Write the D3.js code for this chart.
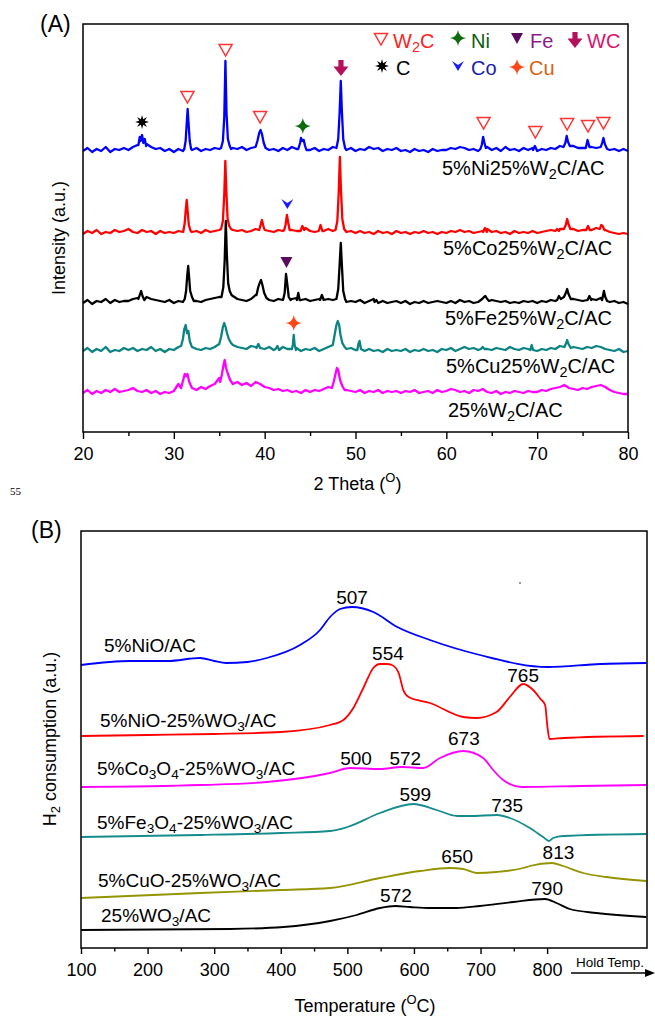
<!DOCTYPE html>
<html>
<head>
<meta charset="utf-8">
<script src="https://cdn.jsdelivr.net/npm/d3@7"></script>
<style>
  body { margin: 0; background: #fff; }
  svg { display: block; }
  text { font-family: "Liberation Sans", Arial, sans-serif; fill: #000; }
</style>
</head>
<body>
<svg id="fig" width="655" height="1019"></svg>
<script>
// ---------- data: (A) XRD patterns ----------
// background read every 0.5 deg from 20 to 80 (a.u. above each pattern's baseline)
const bgNi = [2,5,1,4,2,6,1,4,3,5, 3,6,8,10,9,6,4,5,2,4, 1,4,2,6,3,5,2,4,3,5, 4,6,8,5,4,6,3,5,7,10,
              5,3,4,2,5,3,6,4,8,6, 3,5,2,4,3,6,8,4,3,5, 2,4,3,6,4,5,2,4,3,5, 2,3,1,4,2,3,1,4,2,3,
              3,5,4,6,5,3,4,2,5,6, 3,5,2,6,3,4,2,5,3,5, 2,4,3,5,4,7,8,6,7,5, 5,7,6,5,8,6,3,4,2,4, 2];
const bgCo = [1,4,2,5,1,3,2,5,3,4, 6,3,2,5,3,4,1,4,2,3, 2,4,3,5,3,4,2,5,3,4, 5,8,8,5,4,5,3,4,6,8,
              6,4,3,5,4,6,5,4,6,7, 4,3,5,4,6,4,6,5,3,4, 2,4,2,3,1,4,2,3,1,4, 2,3,1,3,2,4,2,3,1,3,
              2,4,3,5,3,4,2,3,4,6, 3,4,2,3,1,4,2,3,2,4, 2,3,4,5,4,6,7,5,6,4, 5,6,5,7,6,5,3,2,1,2, 1];
const bgFe = [2,5,1,4,3,6,2,5,3,4, 4,6,7,9,8,6,5,4,3,5, 2,4,3,6,8,4,3,5,6,7, 8,10,12,9,6,5,4,6,10,14,
              8,5,4,6,5,8,6,7,5,6, 4,5,6,4,6,5,8,5,3,4, 3,5,2,4,6,3,4,2,3,4, 2,4,1,3,2,4,2,3,4,3,
              2,4,2,5,3,4,2,3,4,7, 5,4,3,4,2,3,2,4,3,4, 2,4,3,5,4,6,5,5,6,5, 4,5,6,5,7,5,3,4,2,3, 1];
const bgCu = [2,5,1,4,2,6,1,3,2,5, 3,5,2,4,3,6,2,4,1,4, 3,6,8,10,6,4,3,5,4,6, 10,14,12,8,6,5,4,7,6,7,
              4,6,3,5,6,4,3,5,2,4, 3,5,2,4,6,8,14,10,4,5, 3,5,2,4,2,3,1,4,2,3, 2,4,1,3,2,4,2,3,1,4,
              3,5,2,4,6,4,5,3,6,4, 3,5,4,3,6,4,3,5,4,6, 2,4,3,5,4,7,6,8,6,5, 4,6,5,7,6,4,3,2,4,1, 2];
const bgW2C = [3,6,2,5,3,6,4,7,4,5, 6,8,5,4,6,3,5,2,4,3, 5,12,16,12,8,6,9,7,10,12, 18,24,16,12,14,11,13,10,14,12,
               9,8,6,7,5,6,4,5,3,6, 4,6,5,7,9,14,18,12,6,5, 4,6,3,5,4,6,3,5,4,5, 3,5,4,6,3,4,5,3,6,4,
               5,7,6,4,5,3,6,5,7,4, 3,5,2,4,3,5,4,3,5,4, 4,6,5,7,8,9,11,8,7,6, 8,7,9,10,11,9,6,4,3,2, 2];

// diffraction peaks: [2theta, a.u. above baseline]
const pkNi = [
  [[26.1,8],[26.25,16],[26.35,12],[26.5,18],[26.65,10],[26.8,14],[26.95,7]],
  [[31.15,4],[31.3,12],[31.42,30],[31.52,44],[31.62,30],[31.75,12],[31.9,4]],
  [[35.2,5],[35.4,12],[35.55,35],[35.68,92],[35.8,40],[35.95,14],[36.15,7],[36.3,4]],
  [[39.0,6],[39.2,12],[39.4,20],[39.55,23],[39.7,19],[39.9,10],[40.1,5]],
  [[43.7,4],[43.9,10],[44.0,15],[44.15,12],[44.3,13],[44.45,7],[44.6,3]],
  [[47.9,5],[48.1,14],[48.25,40],[48.38,72],[48.5,42],[48.65,14],[48.85,5]],
  [[63.75,4],[63.9,8],[64.05,16],[64.2,10],[64.35,5]],
  [[69.55,3],[69.75,7],[69.95,3]],
  [[72.9,6],[73.1,10],[73.25,17],[73.4,11],[73.6,7]],
  [[75.35,5],[75.55,13],[75.75,6]],
  [[77.0,6],[77.15,10],[77.3,15],[77.45,9],[77.7,4]]
];
const pkCo = [
  [[31.05,4],[31.2,12],[31.32,26],[31.42,35],[31.52,24],[31.65,10],[31.85,4]],
  [[35.2,6],[35.4,14],[35.55,40],[35.67,74],[35.78,44],[35.92,16],[36.1,9],[36.3,6]],
  [[39.4,5],[39.55,10],[39.7,15],[39.85,9],[40.0,5]],
  [[42.15,5],[42.3,10],[42.45,20],[42.6,12],[42.75,5]],
  [[43.95,4],[44.15,9],[44.35,5]],
  [[45.95,4],[46.15,10],[46.35,4]],
  [[47.8,5],[48.0,14],[48.15,42],[48.28,78],[48.4,45],[48.55,16],[48.75,6]],
  [[64.05,3],[64.25,7],[64.45,3]],
  [[72.0,4],[72.2,6],[72.4,4]],
  [[72.95,6],[73.15,10],[73.3,16],[73.45,11],[73.65,6]],
  [[75.4,5],[75.6,9],[75.8,5]],
  [[76.9,6],[77.05,10],[77.2,9],[77.4,5]]
];
const pkFe = [
  [[26.1,6],[26.25,10],[26.4,14],[26.55,9],[26.75,5]],
  [[31.2,6],[31.35,14],[31.48,30],[31.58,39],[31.68,28],[31.8,14],[32.0,8],[32.2,4]],
  [[35.25,8],[35.45,18],[35.6,45],[35.72,84],[35.84,50],[35.98,22],[36.15,14],[36.35,10]],
  [[39.1,10],[39.3,18],[39.45,22],[39.6,25],[39.75,20],[39.95,12],[40.2,7]],
  [[42.05,6],[42.2,12],[42.35,31],[42.5,20],[42.65,8],[42.85,5]],
  [[43.55,5],[43.7,12],[43.85,5]],
  [[46.1,5],[46.3,10],[46.5,5]],
  [[47.9,6],[48.1,16],[48.25,40],[48.38,62],[48.5,40],[48.65,14],[48.85,6]],
  [[52.1,3],[52.3,5],[52.5,2]],
  [[63.95,6],[64.15,8],[64.3,9],[64.5,6],[64.7,4]],
  [[72.2,5],[72.4,9],[72.6,6]],
  [[72.95,8],[73.15,12],[73.3,16],[73.45,11],[73.7,6]],
  [[75.55,5],[75.75,9],[75.95,5]],
  [[77.15,5],[77.35,14],[77.5,8],[77.7,4]]
];
const pkCu = [
  [[30.8,7],[31.0,14],[31.15,24],[31.3,28],[31.45,20],[31.6,22],[31.75,12],[31.95,7]],
  [[35.0,9],[35.2,16],[35.4,26],[35.55,30],[35.7,26],[35.85,20],[36.05,14],[36.3,10]],
  [[39.1,5],[39.3,9],[39.5,5]],
  [[41.2,4],[41.4,7],[41.6,3]],
  [[43.0,4],[43.1,8],[43.2,18],[43.3,8],[43.45,3]],
  [[47.5,8],[47.7,18],[47.9,28],[48.05,32],[48.2,28],[48.35,18],[48.55,10],[48.8,6]],
  [[50.2,3],[50.35,10],[50.45,12],[50.6,4]],
  [[63.8,4],[64.0,6],[64.2,4]],
  [[69.25,3],[69.4,8],[69.55,3]],
  [[73.0,6],[73.2,10],[73.3,13],[73.45,9],[73.7,5]]
];
const pkW2C = [
  [[30.8,8],[31.0,15],[31.2,22],[31.35,20],[31.5,22],[31.7,14],[31.9,10]],
  [[35.1,14],[35.3,22],[35.45,30],[35.6,36],[35.75,28],[35.95,22],[36.2,16]],
  [[47.4,8],[47.6,14],[47.8,22],[47.95,28],[48.1,26],[48.3,16],[48.55,10],[48.8,6]]
];

const xrdNames   = ["5%Ni25%W_2C/AC", "5%Co25%W_2C/AC", "5%Fe25%W_2C/AC", "5%Cu25%W_2C/AC", "25%W_2C/AC"];
const xrdOffsets = [279, 197, 127, 79, 36];   // stacking offset of each pattern (a.u.)
const xrdBg      = [bgNi, bgCo, bgFe, bgCu, bgW2C];
const xrdPeaks   = [pkNi, pkCo, pkFe, pkCu, pkW2C];

// phase markers: [phase, 2theta, a.u.]
const xrdMarkers = [
  ["C", 26.5, 310], ["W2C", 31.5, 335], ["W2C", 35.7, 382], ["W2C", 39.5, 315],
  ["Ni", 44.2, 306], ["WC", 48.4, 364], ["W2C", 64.1, 309], ["W2C", 69.8, 300],
  ["W2C", 73.3, 308], ["W2C", 75.6, 306], ["W2C", 77.3, 309],
  ["Co", 42.5, 228], ["Fe", 42.4, 170], ["Cu", 43.2, 109]
];
const thetaTicks = [20, 30, 40, 50, 60, 70, 80];
const thetaMinor = [25, 35, 45, 55, 65, 75];

// ---------- data: (B) H2-TPR ----------
const tprNi   = [[100,283],[174,287],[230,287],[279,290],[300,287],[318,285],[350,286],[379,290],[429,303],[459,318],[474,331],[489,339],[507,341],[539,336],[575,321],[624,308],[699,293],[801,281],[880,284],[949,285]];
const tprNiW  = [[100,212],[200,213],[300,214],[400,216],[474,223],[494,228],[509,240],[524,260],[539,280],[549,284],[559,284],[567,283],[577,275],[584,258],[592,251],[624,245],[674,231],[694,230],[724,236],[744,251],[764,264],[779,258],[790,249],[797,243],[800.5,221],[803.5,209],[824.5,210],[945,212]];
const tprCoW  = [[100,161],[279,163],[379,166],[474,175],[504,180],[549,179],[582,181],[614,180],[639,190],[674,197],[704,190],[719,178],[734,168],[762,161],[850,162],[949,163]];
const tprFeW  = [[100,111],[279,113],[400,115],[474,117],[500,121],[549,135],[599,144],[634,138],[665,132],[684,132],[725,133],[744,130],[774,120],[794,111],[803,107],[809,110],[824,112],[949,114]];
const tprCuW  = [[100,50],[279,55],[400,58],[474,60],[549,70],[609,77],[654,80],[674,79],[694,75],[724,76],[764,80],[774,82],[807,85],[824,82],[854,75],[889,71],[949,67]];
const tprW    = [[100,18],[324,19],[404,21],[474,27],[514,33],[549,40],[572,42],[594,41],[624,40],[664,40],[699,42],[749,46],[797,49],[814,45],[834,39],[874,35],[949,31]];

const tprNames  = ["5%NiO/AC", "5%NiO-25%WO_3/AC", "5%Co_3O_4-25%WO_3/AC", "5%Fe_3O_4-25%WO_3/AC", "5%CuO-25%WO_3/AC", "25%WO_3/AC"];
const tprSeries = [tprNi, tprNiW, tprCoW, tprFeW, tprCuW, tprW];
// peak temperature labels: [text, temperature, a.u.]
const tprPeakLabels = [
  ["507", 507, 344], ["554", 561, 288], ["765", 764, 266],
  ["500", 513, 183], ["572", 587, 183], ["673", 675, 203],
  ["599", 602, 147], ["735", 740, 136],
  ["650", 665, 85], ["813", 817, 89],
  ["572", 573, 46], ["790", 800, 53]
];
const tempTicks = [100, 200, 300, 400, 500, 600, 700, 800];
const tempMinor = [150, 250, 350, 450, 550, 650, 750];

// ---------- helpers ----------
const svg = d3.select("#fig");

// "_x" = subscript char, "^x" = superscript char
function rich(sel, str, size) {
  const tokens = [];
  for (let i = 0; i < str.length; i++) {
    let ch = str[i], mode = "n";
    if ((ch === "_" || ch === "^") && i + 1 < str.length) { mode = ch; ch = str[++i]; }
    const last = tokens[tokens.length - 1];
    if (last && last.mode === mode && mode === "n") last.s += ch;
    else tokens.push({ mode, s: ch });
  }
  let shift = 0;
  tokens.forEach(t => {
    const target = t.mode === "_" ? size * 0.22 : t.mode === "^" ? -size * 0.45 : 0;
    const ts = sel.append("tspan").text(t.s);
    if (target - shift !== 0) ts.attr("dy", target - shift);
    if (t.mode !== "n") ts.attr("font-size", size * 0.72);
    shift = target;
  });
  return sel;
}

function label(x, y, str, size, anchor, color) {
  const t = svg.append("text").attr("x", x).attr("y", y)
    .attr("font-size", size).attr("text-anchor", anchor || "start")
    .style("fill", color || "#000");
  return rich(t, str, size);
}

function starPath(n, r1, r2) {
  let p = "";
  for (let i = 0; i < 2 * n; i++) {
    const r = i % 2 ? r2 : r1, a = Math.PI * i / n - Math.PI / 2;
    p += (i ? "L" : "M") + (r * Math.cos(a)).toFixed(2) + "," + (r * Math.sin(a)).toFixed(2);
  }
  return p + "Z";
}

const markerStyle = {
  W2C: { d: "M-6.5,-5.5L6.5,-5.5L0,6Z", fill: "#fff", stroke: "#ff3333" },
  Ni:  { d: "M0,-8Q1,-1 8,0Q1,1 0,8Q-1,1 -8,0Q-1,-1 0,-8Z", fill: "#0d6a0d" },
  Cu:  { d: "M0,-8Q1,-1 8,0Q1,1 0,8Q-1,1 -8,0Q-1,-1 0,-8Z", fill: "#ff4719" },
  Fe:  { d: "M-6,-5L6,-5L0,6Z", fill: "#5c0b5c" },
  WC:  { d: "M-2.6,-8H2.6V-1.5H7.5L0,8L-7.5,-1.5H-2.6Z", fill: "#b5105c" },
  Co:  { d: "M-6,-5L0,-1L6,-5L0,5Z", fill: "#1a1aff" },
  C:   { d: starPath(8, 7, 3), fill: "#000" }
};

function marker(type, x, y) {
  const m = markerStyle[type];
  svg.append("path").attr("d", m.d).attr("transform", `translate(${x},${y})`)
    .attr("fill", m.fill).attr("stroke", m.stroke || "none").attr("stroke-width", 1.5);
}

// ================= (A) XRD =================
const A = { left: 83, right: 628, top: 24, bottom: 432 };
const xA = d3.scaleLinear().domain([20, 80]).range([A.left, A.right]);
const yA = d3.scaleLinear().domain([0, A.bottom - A.top]).range([A.bottom, A.top]);

function buildPattern(bg, peaks) {
  const pts = [];
  bg.forEach((v, i) => {
    const t = 20 + i * 0.5;
    if (!peaks.some(p => t >= p[0][0] && t <= p[p.length - 1][0])) pts.push([t, v]);
  });
  peaks.forEach(p => p.forEach(q => pts.push(q)));
  return pts.sort((a, b) => a[0] - b[0]);
}

const xrdColors = ["#0000ff", "#ff0000", "#000000", "#0b8383", "#ff00ff"];
xrdBg.forEach((bg, k) => {
  const pts = buildPattern(bg, xrdPeaks[k]);
  const line = d3.line().x(d => xA(d[0])).y(d => yA(xrdOffsets[k] + d[1]));
  svg.append("path").datum(pts).attr("d", line)
    .attr("fill", "none").attr("stroke", xrdColors[k]).attr("stroke-width", 2.3)
    .attr("stroke-linejoin", "round");
});

xrdMarkers.forEach(m => marker(m[0], xA(m[1]), yA(m[2])));

svg.append("rect").attr("x", A.left).attr("y", A.top)
  .attr("width", A.right - A.left).attr("height", A.bottom - A.top)
  .attr("fill", "none").attr("stroke", "#000").attr("stroke-width", 1.5);

const axA = svg.append("g").attr("transform", `translate(0,${A.bottom})`)
  .call(d3.axisBottom(xA).tickValues(thetaTicks).tickSize(7).tickPadding(8).tickFormat(d3.format("d")));
const axAm = svg.append("g").attr("transform", `translate(0,${A.bottom})`)
  .call(d3.axisBottom(xA).tickValues(thetaMinor).tickSize(4).tickFormat(""));
[axA, axAm].forEach(g => {
  g.select(".domain").remove();
  g.selectAll("line").attr("stroke-width", 1.4);
  g.selectAll("text").attr("font-size", 18).attr("font-family", "Liberation Sans, Arial, sans-serif");
});

const xrdLabelY = [175, 255, 325, 373, 417];
const xrdLabelX = [442, 443, 445, 446, 448];
xrdNames.forEach((n, k) => label(xrdLabelX[k], xrdLabelY[k], n, 20));

// legend
const legA = [
  ["W2C", "W_2C", "#ff2222", 381, 39, 393, 48],
  ["Ni", "Ni", "#0d5c0d", 458, 38, 471, 48],
  ["Fe", "Fe", "#8b1a8b", 517, 38, 530, 48],
  ["WC", "WC", "#e0106a", 575, 40, 587, 48],
  ["C", "C", "#000000", 382, 66, 396, 75],
  ["Co", "Co", "#1c1ca8", 458, 66, 471, 75],
  ["Cu", "Cu", "#d8620f", 517, 67, 529, 75]
];
legA.forEach(l => {
  marker(l[0], l[3], l[4]);
  label(l[5], l[6], l[1], 20, "start", l[2]);
});

label(40, 32, "(A)", 23);
svg.append("text").attr("transform", "translate(65,238) rotate(-90)")
  .attr("text-anchor", "middle").attr("font-size", 18).text("Intensity (a.u.)");
label((A.left + A.right) / 2 + 2, 490, "2 Theta (^O)", 18, "middle");

svg.append("text").attr("x", 10).attr("y", 495).attr("font-size", 11)
  .style("font-family", "Liberation Serif, Times New Roman, serif").text("55");

// ================= (B) H2-TPR =================
const B = { left: 81, right: 647, top: 531, bottom: 948 };
const xB = d3.scaleLinear().domain([100, 950]).range([B.left, B.right]);
const yB = d3.scaleLinear().domain([0, B.bottom - B.top]).range([B.bottom, B.top]);

const tprColors = ["#0000ff", "#ff0000", "#ff00ff", "#158c8c", "#949400", "#000000"];
const lineB = d3.line().x(d => xB(d[0])).y(d => yB(d[1])).curve(d3.curveMonotoneX);
tprSeries.forEach((s, k) => {
  svg.append("path").datum(s).attr("d", lineB)
    .attr("fill", "none").attr("stroke", tprColors[k]).attr("stroke-width", 1.8);
});

tprPeakLabels.forEach(p => label(xB(p[1]), yB(p[2]), p[0], 19, "middle"));

const tprLabelX = [104, 100, 97, 97, 98, 101];
const tprLabelY = [652, 727, 775, 829, 887, 922];
tprNames.forEach((n, k) => label(tprLabelX[k], tprLabelY[k], n, 19));

svg.append("rect").attr("x", B.left).attr("y", B.top)
  .attr("width", B.right - B.left).attr("height", B.bottom - B.top)
  .attr("fill", "none").attr("stroke", "#000").attr("stroke-width", 1.5);

const axB = svg.append("g").attr("transform", `translate(0,${B.bottom})`)
  .call(d3.axisBottom(xB).tickValues(tempTicks).tickSize(6).tickPadding(9).tickFormat(d3.format("d")));
const axBm = svg.append("g").attr("transform", `translate(0,${B.bottom})`)
  .call(d3.axisBottom(xB).tickValues(tempMinor).tickSize(3.5).tickFormat(""));
[axB, axBm].forEach(g => {
  g.select(".domain").remove();
  g.selectAll("line").attr("stroke-width", 1.4);
  g.selectAll("text").attr("font-size", 18).attr("font-family", "Liberation Sans, Arial, sans-serif");
});

// hold temperature arrow
svg.append("line").attr("x1", 571).attr("x2", 647).attr("y1", 973).attr("y2", 973)
  .attr("stroke", "#000").attr("stroke-width", 1.3);
svg.append("path").attr("d", "M645,969L655,973L645,977Z").attr("fill", "#000");
label(576, 967, "Hold Temp.", 13.5);

svg.append("rect").attr("x", 519).attr("y", 582).attr("width", 2).attr("height", 2).attr("fill", "#999");

label(31, 538, "(B)", 23);
rich(svg.append("text").attr("transform", "translate(56,739) rotate(-90)")
  .attr("text-anchor", "middle").attr("font-size", 18), "H_2 consumption (a.u.)", 18);
label((B.left + B.right) / 2 + 1, 1012, "Temperature (^OC)", 18, "middle");
</script>
</body>
</html>
